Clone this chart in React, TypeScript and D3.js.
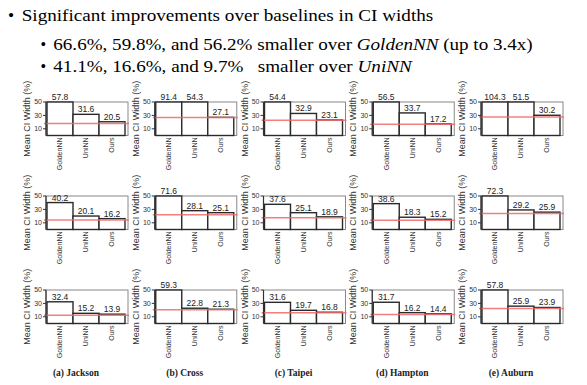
import React from "react";
import * as d3 from "d3";

// ---- data ----
const methods = ["GoldenNN", "UniNN", "Ours"];
const captions = ["(a) Jackson", "(b) Cross", "(c) Taipei", "(d) Hampton", "(e) Auburn"];
const yTicks = [10, 30, 50];

// per-site [GoldenNN, UniNN, Ours] mean CI width (%)
const row1Values = [
  [57.8, 31.6, 20.5],
  [91.4, 54.3, 27.1],
  [54.4, 32.9, 23.1],
  [56.5, 33.7, 17.2],
  [104.3, 51.5, 30.2],
];
const row2Values = [
  [40.2, 20.1, 16.2],
  [71.6, 28.1, 25.1],
  [37.6, 25.1, 18.9],
  [38.6, 18.3, 15.2],
  [72.3, 29.2, 25.9],
];
const row3Values = [
  [32.4, 15.2, 13.9],
  [59.3, 22.8, 21.3],
  [31.6, 19.7, 16.8],
  [31.7, 16.2, 14.4],
  [57.8, 25.9, 23.9],
];
// red reference line per site
const row1Ref = [17.8, 26.7, 22.8, 16.9, 27.7];
const row2Ref = [14.3, 22.0, 17.6, 13.7, 24.0];
const row3Ref = [12.5, 20.4, 15.9, 13.5, 22.5];

const rowsValues = [row1Values, row2Values, row3Values];
const rowsRef = [row1Ref, row2Ref, row3Ref];

const headline = "Significant improvements over baselines in CI widths";

// ---- layout ----
const W = 587;
const H = 385;
const colX0 = 46;
const colStep = 108.75;
const rowY0 = 102;
const rowStep = 94;
const frameW = 82;
const frameH = 33.5;
const yMax = 50;
const sans = "'Liberation Sans', Arial, sans-serif";
const serif = "'Liberation Serif', 'Times New Roman', serif";

function Panel({ left, top, values, refVal, showLabels }: any) {
  const y = d3.scaleLinear().domain([0, yMax]).range([top + frameH, top]);
  const x = d3.scaleBand<string>().domain(methods).range([left + 1, left + 79]).padding(0);
  const right = left + frameW;
  const bottom = top + frameH;
  return (
    <g>
      {/* frame */}
      <rect x={left} y={top} width={frameW} height={frameH} fill="white" stroke="#888" strokeWidth={1} />
      {/* bars */}
      {methods.map((m, i) => {
        const v = Math.min(values[i], yMax);
        return (
          <rect
            key={m}
            x={x(m)}
            y={y(v)}
            width={x.bandwidth()}
            height={bottom - y(v)}
            fill="white"
            stroke="#2a2a2a"
            strokeWidth={1.4}
          />
        );
      })}
      {/* red reference line */}
      <line x1={left - 2} x2={right + 1} y1={y(refVal)} y2={y(refVal)} stroke="#f06a6a" strokeOpacity={0.85} strokeWidth={1.5} />
      {/* left axis */}
      <line x1={left} x2={left} y1={top} y2={bottom} stroke="#333" strokeWidth={1.2} />
      {yTicks.map((t) => (
        <g key={t}>
          <line x1={left - 3} x2={left} y1={y(t)} y2={y(t)} stroke="#333" strokeWidth={1} />
          <text x={left - 4} y={y(t)} dy="0.35em" textAnchor="end" fontSize={7} fontFamily={sans} fill="#333">
            {t}
          </text>
        </g>
      ))}
      {/* value labels */}
      {methods.map((m, i) => {
        const v = Math.min(values[i], yMax);
        return (
          <text
            key={m}
            x={(x(m) as number) + x.bandwidth() / 2}
            y={y(v) - 2}
            textAnchor="middle"
            fontSize={8.5}
            fontFamily={sans}
            fill="#222"
          >
            {values[i].toFixed(1)}
          </text>
        );
      })}
      {/* x labels */}
      {methods.map((m) => {
        const cx = (x(m) as number) + x.bandwidth() / 2;
        const ly = bottom + 2;
        return (
          <text
            key={m}
            transform={`translate(${cx},${ly}) rotate(-90)`}
            dy="0.35em"
            textAnchor="end"
            fontSize={7}
            fontFamily={sans}
            fill="#333"
          >
            {m}
          </text>
        );
      })}
      {/* y label */}
      <text
        transform={`translate(${left - 19},${top + frameH / 2}) rotate(-90)`}
        dy="0.35em"
        textAnchor="middle"
        fontSize={9}
        fontFamily={sans}
        fill="#333"
      >
        Mean CI Width (%)
      </text>
    </g>
  );
}

export default function App() {
  return (
    <svg
      width={W}
      height={H}
      viewBox={`0 0 ${W} ${H}`}
      style={{ position: "absolute", left: 0, top: 0, background: "white" }}
    >
      <rect x={0} y={0} width={W} height={H} fill="white" />
      {/* header bullets */}
      <text x={8} y={20.7} fontSize={17.5} fontFamily={serif} fill="#000">•</text>
      <text x={21.7} y={20.7} fontSize={17.5} fontFamily={serif} fill="#000" textLength={411.6} lengthAdjust="spacingAndGlyphs">
        {headline}
      </text>
      <text x={40.5} y={49.7} fontSize={16} fontFamily={serif} fill="#000">•</text>
      <text x={53.3} y={49.7} fontSize={16} fontFamily={serif} fill="#000" textLength={479.4} lengthAdjust="spacingAndGlyphs">
        <tspan>66.6%, 59.8%, and 56.2% smaller over </tspan>
        <tspan fontStyle="italic">GoldenNN</tspan>
        <tspan> (up to 3.4x)</tspan>
      </text>
      <text x={40.5} y={72} fontSize={16} fontFamily={serif} fill="#000">•</text>
      <text x={53.3} y={72} fontSize={16} fontFamily={serif} fill="#000" textLength={358.4} lengthAdjust="spacingAndGlyphs" style={{ whiteSpace: "pre" }}>
        <tspan>{"41.1%, 16.6%, and 9.7%   smaller over "}</tspan>
        <tspan fontStyle="italic">UniNN</tspan>
      </text>

      {rowsValues.map((rv, r) =>
        rv.map((vals, c) => (
          <Panel
            key={`${r}-${c}`}
            left={colX0 + c * colStep}
            top={rowY0 + r * rowStep}
            values={vals}
            refVal={rowsRef[r][c]}
          />
        ))
      )}
      {captions.map((cap, c) => (
        <text
          key={cap}
          x={colX0 + c * colStep + 30}
          y={375.5}
          textAnchor="middle"
          fontSize={9.5}
          fontWeight="bold"
          fontFamily={serif}
          fill="#222"
        >
          {cap}
        </text>
      ))}
    </svg>
  );
}
